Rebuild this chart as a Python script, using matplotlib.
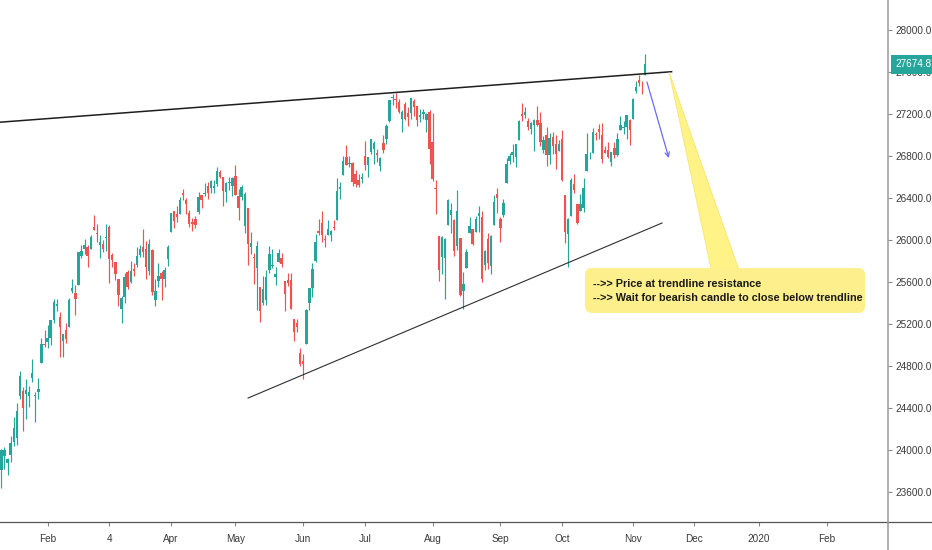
import matplotlib
matplotlib.use('Agg')
import matplotlib.pyplot as plt
from matplotlib import font_manager
from matplotlib.patches import FancyBboxPatch, Polygon
from matplotlib.lines import Line2D
from matplotlib.transforms import blended_transform_factory
import pandas as pd

# Dow Jones daily candles, 2019 (month-day)
dates = [
    '01-10', '01-11', '01-14', '01-15', '01-16', '01-17', '01-18', '01-22', '01-23', '01-24', '01-25',
    '01-28', '01-29', '01-30', '01-31',
    '02-01', '02-04', '02-05', '02-06', '02-07', '02-08', '02-11', '02-12', '02-13', '02-14', '02-15',
    '02-19', '02-20', '02-21', '02-22', '02-25', '02-26', '02-27', '02-28',
    '03-01', '03-04', '03-05', '03-06', '03-07', '03-08', '03-11', '03-12', '03-13', '03-14', '03-15',
    '03-18', '03-19', '03-20', '03-21', '03-22', '03-25', '03-26', '03-27', '03-28', '03-29',
    '04-01', '04-02', '04-03', '04-04', '04-05', '04-08', '04-09', '04-10', '04-11', '04-12', '04-15',
    '04-16', '04-17', '04-18', '04-22', '04-23', '04-24', '04-25', '04-26', '04-29', '04-30',
    '05-01', '05-02', '05-03', '05-06', '05-07', '05-08', '05-09', '05-10', '05-13', '05-14', '05-15',
    '05-16', '05-17', '05-20', '05-21', '05-22', '05-23', '05-24', '05-28', '05-29', '05-30', '05-31',
    '06-03', '06-04', '06-05', '06-06', '06-07', '06-10', '06-11', '06-12', '06-13', '06-14', '06-17',
    '06-18', '06-19', '06-20', '06-21', '06-24', '06-25', '06-26', '06-27', '06-28',
    '07-01', '07-02', '07-03', '07-05', '07-08', '07-09', '07-10', '07-11', '07-12', '07-15', '07-16',
    '07-17', '07-18', '07-19', '07-22', '07-23', '07-24', '07-25', '07-26', '07-29', '07-30', '07-31',
    '08-01', '08-02', '08-05', '08-06', '08-07', '08-08', '08-09', '08-12', '08-13', '08-14', '08-15',
    '08-16', '08-19', '08-20', '08-21', '08-22', '08-23', '08-26', '08-27', '08-28', '08-29', '08-30',
    '09-03', '09-04', '09-05', '09-06', '09-09', '09-10', '09-11', '09-12', '09-13', '09-16', '09-17',
    '09-18', '09-19', '09-20', '09-23', '09-24', '09-25', '09-26', '09-27', '09-30',
    '10-01', '10-02', '10-03', '10-04', '10-07', '10-08', '10-09', '10-10', '10-11', '10-14', '10-15',
    '10-16', '10-17', '10-18', '10-21', '10-22', '10-23', '10-24', '10-25', '10-28', '10-29', '10-30',
    '10-31',
    '11-01', '11-04', '11-05', '11-06', '11-07',
]
opens = [
    23811, 23940, 23878, 23952, 24078, 24111, 24515, 24559, 24531, 24510, 24690, 24513, 24556, 24826, 25000,
    25025, 25062, 25236, 25371, 25265, 25041, 25143, 25172, 25511, 25496, 25570, 25851, 25911, 25932, 25910,
    26126, 26068, 25951, 25966,
    26019, 26122, 25858, 25794, 25626, 25347, 25454, 25695, 25601, 25723, 25759, 25854, 25935, 25911, 25704,
    25901, 25428, 25608, 25685, 25628, 25822,
    26076, 26281, 26243, 26246, 26452, 26377, 26258, 26176, 26203, 26264, 26427, 26434, 26512, 26500, 26491,
    26534, 26645, 26601, 26460, 26543, 26512,
    26609, 26419, 26412, 26134, 26301, 25931, 25837, 25735, 25550, 25400, 25433, 25713, 25749, 25652, 25791,
    25824, 25611, 25621, 25622, 25251, 25208, 24928,
    24843, 25011, 25398, 25547, 25801, 26088, 26160, 26012, 26052, 26051, 26120, 26194, 26483, 26623, 26790,
    26723, 26735, 26627, 26575, 26578,
    26800, 26714, 26838, 26870, 26825, 26707, 26922, 26960, 27132, 27348, 27339, 27313, 27151, 27293, 27208,
    27210, 27325, 27275, 27175, 27204, 27144, 27218,
    26937, 26495, 26035, 25834, 25830, 26146, 26236, 26190, 25942, 26019, 25518, 25731, 26070, 26107, 26074,
    26224, 26222, 25766, 26010, 25752, 26146, 26438,
    26200, 26236, 26546, 26748, 26807, 26791, 26948, 27202, 27193, 27136, 27056, 27096, 27139, 27119, 26862,
    27004, 26808, 26979, 26910, 26852,
    26963, 26425, 26053, 26229, 26534, 26345, 26272, 26309, 26662, 26787, 26826, 27007, 27054, 26999, 26855,
    26855, 26739, 26880, 26813, 27050, 27071, 27079, 27147,
    27155, 27420, 27520, 27498, 27571,
]
highs = [
    24007, 24026, 23928, 24133, 24316, 24443, 24750, 24604, 24677, 24606, 24862, 24549, 24681, 25067, 25141,
    25193, 25239, 25439, 25439, 25314, 25106, 25210, 25452, 25624, 25572, 25883, 25948, 26009, 25950, 26052,
    26241, 26150, 26050, 26000,
    26155, 26143, 25880, 25794, 25626, 25462, 25687, 25713, 25804, 25777, 25932, 25955, 26109, 25987, 26008,
    25917, 25627, 25779, 25706, 25742, 25949,
    26259, 26281, 26328, 26410, 26486, 26396, 26290, 26206, 26233, 26453, 26427, 26543, 26551, 26576, 26568,
    26695, 26665, 26603, 26551, 26600, 26597,
    26710, 26487, 26522, 26460, 26301, 26076, 25879, 25994, 25550, 25653, 25719, 25939, 25917, 25742, 25918,
    25874, 25611, 25681, 25687, 25251, 25252, 24973,
    24917, 25341, 25543, 25779, 26053, 26196, 26272, 26051, 26188, 26099, 26186, 26587, 26551, 26800, 26907,
    26798, 26746, 26670, 26630, 26640,
    26940, 26787, 26966, 26945, 26868, 26792, 27000, 27104, 27333, 27389, 27399, 27339, 27234, 27311, 27263,
    27355, 27340, 27275, 27246, 27244, 27205, 27238,
    27214, 26572, 26035, 26036, 26020, 26386, 26356, 26203, 26481, 26019, 25697, 25918, 26216, 26107, 26233,
    26328, 26275, 25906, 26066, 26044, 26427, 26494,
    26219, 26387, 26782, 26824, 26911, 26911, 27144, 27306, 27269, 27166, 27122, 27152, 27272, 27219, 26990,
    27079, 27017, 27024, 27002, 26957,
    27046, 26425, 26213, 26595, 26629, 26345, 26437, 26590, 27021, 26842, 27069, 27031, 27103, 27110, 26892,
    26934, 26836, 26929, 27015, 27182, 27129, 27191, 27155,
    27357, 27515, 27575, 27510, 27775,
]
lows = [
    23634, 23820, 23760, 23888, 24035, 24052, 24487, 24181, 24291, 24408, 24652, 24269, 24489, 24825, 24979,
    24973, 24999, 25211, 25324, 24884, 24883, 25018, 25172, 25494, 25290, 25570, 25828, 25868, 25746, 25910,
    26091, 25985, 25824, 25881,
    25899, 25591, 25747, 25621, 25368, 25208, 25398, 25531, 25586, 25658, 25745, 25835, 25837, 25626, 25663,
    25478, 25372, 25555, 25427, 25557, 25756,
    26076, 26118, 26170, 26246, 26384, 26247, 26121, 26082, 26115, 26251, 26304, 26420, 26389, 26443, 26449,
    26513, 26594, 26328, 26362, 26478, 26421,
    26424, 26189, 26381, 26063, 25766, 25867, 25580, 25337, 25222, 25378, 25379, 25689, 25737, 25567, 25791,
    25746, 25328, 25558, 25347, 25040, 25124, 24803,
    24680, 25011, 25330, 25454, 25788, 26049, 25984, 25931, 26052, 25989, 26095, 26186, 26390, 26621, 26715,
    26695, 26513, 26502, 26506, 26541,
    26671, 26600, 26817, 26727, 26746, 26660, 26833, 26919, 27120, 27286, 27256, 27211, 27033, 27145, 27086,
    27150, 27183, 27089, 27128, 27154, 27031, 26720,
    26564, 26249, 25608, 25673, 25440, 26146, 26071, 25843, 25906, 25470, 25339, 25731, 26070, 25957, 26074,
    26079, 25601, 25719, 25726, 25675, 26146, 26257,
    25978, 26219, 26546, 26721, 26745, 26693, 26948, 27134, 27160, 27046, 27006, 26846, 27090, 26897, 26831,
    26709, 26725, 26817, 26672, 26852,
    26566, 25975, 25743, 26229, 26443, 26153, 26272, 26264, 26662, 26767, 26824, 26950, 26964, 26730, 26825,
    26783, 26701, 26781, 26800, 27050, 27012, 26960, 26905,
    27155, 27400, 27463, 27395, 27571,
]
closes = [
    24001, 23996, 23910, 24065, 24207, 24370, 24706, 24404, 24575, 24553, 24737, 24528, 24579, 25014, 24999,
    25064, 25239, 25411, 25390, 25169, 25106, 25053, 25425, 25543, 25439, 25883, 25891, 25954, 25850, 26031,
    26091, 26057, 25985, 25916,
    26026, 25819, 25806, 25673, 25473, 25450, 25650, 25554, 25702, 25709, 25849, 25914, 25887, 25745, 25962,
    25502, 25516, 25657, 25625, 25717, 25929,
    26258, 26179, 26218, 26385, 26425, 26341, 26150, 26157, 26143, 26412, 26384, 26452, 26450, 26559, 26511,
    26656, 26597, 26462, 26543, 26554, 26593,
    26430, 26307, 26505, 26438, 25965, 25967, 25828, 25942, 25325, 25532, 25648, 25862, 25764, 25679, 25877,
    25776, 25490, 25586, 25347, 25126, 25169, 24815,
    24820, 25332, 25540, 25720, 25984, 26062, 26048, 26004, 26107, 26090, 26112, 26465, 26504, 26753, 26719,
    26727, 26548, 26536, 26526, 26600,
    26717, 26787, 26966, 26922, 26806, 26783, 26860, 27088, 27332, 27359, 27335, 27220, 27223, 27154, 27172,
    27349, 27270, 27140, 27192, 27221, 27198, 26864,
    26583, 26485, 25718, 26030, 26008, 26378, 26287, 25897, 26280, 25480, 25579, 25886, 26136, 25962, 26202,
    26253, 25629, 25899, 25778, 26036, 26363, 26403,
    26118, 26355, 26728, 26797, 26835, 26910, 27137, 27182, 27220, 27076, 27111, 27147, 27095, 26935, 26949,
    26808, 26970, 26891, 26820, 26917,
    26573, 26079, 26202, 26573, 26478, 26164, 26347, 26497, 26817, 26787, 27024, 27001, 27026, 26770, 26828,
    26788, 26834, 26806, 26958, 27091, 27071, 27186, 27046,
    27347, 27462, 27492, 27492, 27675,
]
last_price = 27674.8

holidays = ['2019-01-21', '2019-02-18', '2019-04-19', '2019-05-27', '2019-07-04',
            '2019-09-02', '2019-11-28', '2019-12-25', '2020-01-01']

tick_dates = ['2019-02-01', '2019-03-04', '2019-04-01', '2019-05-01', '2019-06-03', '2019-07-01',
              '2019-08-01', '2019-09-03', '2019-10-01', '2019-11-01', '2019-12-02', '2020-01-02',
              '2020-02-03']
tick_names = ['Feb', '4', 'Apr', 'May', 'Jun', 'Jul', 'Aug', 'Sep', 'Oct', 'Nov', 'Dec', '2020', 'Feb']
price_ticks = [23600, 24000, 24400, 24800, 25200, 25600, 26000, 26400, 26800, 27200, 27600, 28000]

# drawn lines: (bar position, price)
upper_trend = [(-0.5, 27122), (217.6, 27603)]
lower_trend = [(80.1, 24495), (214.5, 26162)]
arrow_from = (209.6, 27505)
arrow_to = (216.7, 26781)

note_lines = ['-->> Price at trendline resistance',
              '-->> Wait for bearish candle to close below trendline']

GREEN = '#26a69a'
RED = '#ef5350'

names = {f.name for f in font_manager.fontManager.ttflist}
narrow = 'Liberation Sans Narrow' if 'Liberation Sans Narrow' in names else 'Liberation Sans'
note_size = 8.2 if narrow == 'Liberation Sans Narrow' else 7.85
plt.rcParams['font.family'] = ['Liberation Sans', 'DejaVu Sans']

# trading-day calendar -> bar index
cal = pd.bdate_range('2019-01-10', '2020-03-31')
cal = cal[~cal.isin(pd.to_datetime(holidays))]
bar_of = {d.strftime('%Y-%m-%d'): i for i, d in enumerate(cal)}

x = [bar_of['2019-' + d] for d in dates]
colors = [GREEN if c >= o else RED for o, c in zip(opens, closes)]
bottoms = [min(o, c) for o, c in zip(opens, closes)]
heights = [max(abs(c - o), 8) for o, c in zip(opens, closes)]

fig = plt.figure(figsize=(9.32, 5.5), dpi=100)
ax = fig.add_axes([0, 28 / 550, 888 / 932, 522 / 550])

ax.vlines(x, lows, highs, colors=colors, linewidth=0.85, zorder=2)
ax.bar(x, heights, bottom=bottoms, width=0.78, color=colors, linewidth=0, zorder=3)

ax.plot([p[0] for p in upper_trend], [p[1] for p in upper_trend], color='#1e1e1e', lw=1.1, zorder=4)
ax.plot([p[0] for p in lower_trend], [p[1] for p in lower_trend], color='#2e2e2e', lw=0.8, zorder=4)
ax.annotate('', xy=arrow_to, xytext=arrow_from,
            arrowprops=dict(arrowstyle='->', color='#6b6bf5', lw=0.9, shrinkA=0, shrinkB=0,
                            mutation_scale=8), zorder=5)

# yellow callout
box_x0, box_x1 = 189.5, 280.4
box_y0, box_y1 = 25305, 25733
wedge = Polygon([(upper_trend[1][0] - 0.8, upper_trend[1][1] - 5), (230.5, box_y1 - 20), (239.5, box_y1 - 20)],
                closed=True, facecolor='#fff27a', edgecolor='#f5e36a', lw=0.6, alpha=0.9, zorder=5)
ax.add_patch(wedge)
box = FancyBboxPatch((box_x0, box_y0), box_x1 - box_x0, box_y1 - box_y0,
                     boxstyle='round,pad=0,rounding_size=2.2', mutation_aspect=29.3,
                     facecolor='#fdf08c', edgecolor='none', zorder=6)
ax.add_patch(box)
ax.text(box_x0 + 2.6, (box_y0 + box_y1) / 2 - 2, '\n'.join(note_lines), family=[narrow, 'DejaVu Sans'],
        fontsize=note_size, fontweight='bold', color='#1a1a1a', va='center', ha='left', linespacing=1.45,
        zorder=7)

ax.set_xlim(-0.455, 287.86)
ax.set_ylim(23314, 28286)

ax.set_xticks([bar_of[d] for d in tick_dates])
ax.set_xticklabels(tick_names)
ax.yaxis.tick_right()
ax.set_yticks(price_ticks)
ax.set_yticklabels([f'{v:.1f}' for v in price_ticks])
ax.tick_params(axis='y', length=3, width=0.8, color='#8a8a8a', pad=2, labelsize=7.2, labelcolor='#3a3a3a')
ax.tick_params(axis='x', length=3, width=0.8, color='#8a8a8a', pad=6, labelsize=7.2, labelcolor='#3a3a3a')
for s in ax.spines.values():
    s.set_visible(False)

# current price tag
tr = blended_transform_factory(ax.transAxes, ax.transData)
ax.text(1.0 + 7 / 888, last_price, f'{last_price:.1f}', transform=tr, fontsize=7.2, color='white',
        va='center', ha='left', clip_on=False, zorder=10,
        bbox=dict(boxstyle='square,pad=0.45', facecolor=GREEN, edgecolor='none'))

# panel separators
fig.add_artist(Line2D([0, 1], [28 / 550, 28 / 550], color='#555555', lw=0.9, transform=fig.transFigure))
fig.add_artist(Line2D([888 / 932, 888 / 932], [0, 1], color='#9a9a9a', lw=1.1, transform=fig.transFigure))

fig.savefig('out.png', dpi=100, facecolor='white')
